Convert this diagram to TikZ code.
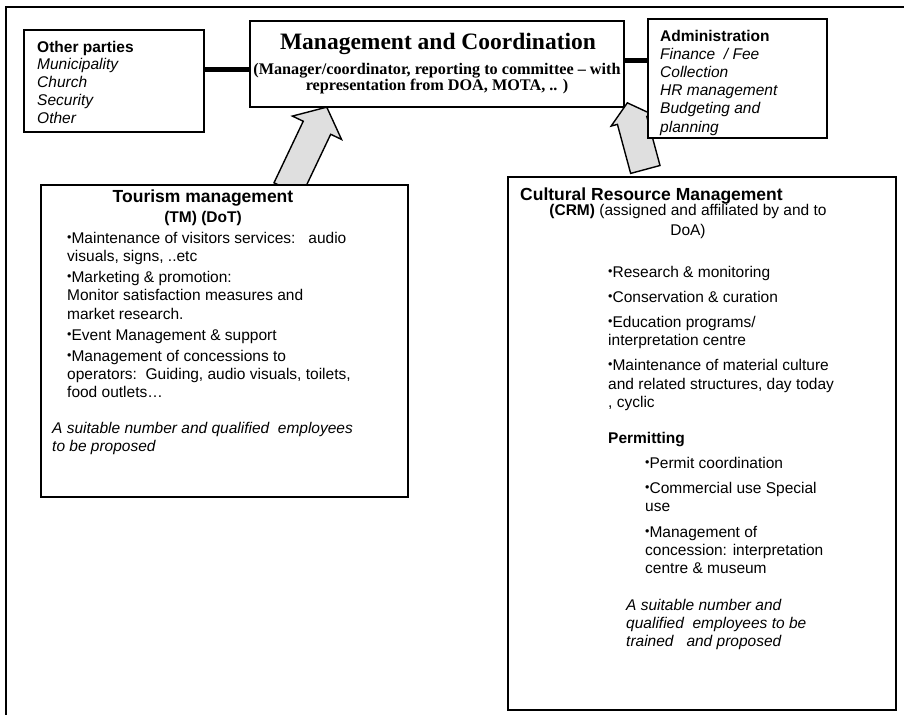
\documentclass[tikz,border=0pt]{standalone}
\usepackage{fontspec}
\setmainfont{Liberation Sans}
\newfontfamily\timesfont{Liberation Serif}
\usepackage{tikz}
\usetikzlibrary{shapes.arrows}

\newcommand{\bul}{{\fontsize{12.5}{10}\selectfont\raisebox{0.3ex}{\textbullet}}}
\newcommand{\bodyfont}[1]{\fontsize{15.5}{#1}\selectfont}

\tikzset{
  box/.style={draw, line width=1.4pt, fill=white, inner sep=0pt},
  link/.style={line width=5pt},
  txt/.style={inner sep=0pt, align=left, anchor=north west},
  bigarrow/.style={single arrow, draw, line width=1.4pt, fill=gray!25,
    inner sep=14.5pt, single arrow tip angle=100}
}

\begin{document}
\begin{tikzpicture}[x=1pt,y=-1pt]
    \useasboundingbox (0,0) rectangle (904,715);
    % frame of the page
    \draw[line width=1.5pt] (5,7) -- (904,7);
    \draw[line width=2pt] (6,7) -- (6,715);

    % block arrows up to the management box
    \node[bigarrow, minimum height=91pt, single arrow head extend=12pt, rotate=64.6] (tmarrow) at (304.5,154) {};
    \node[bigarrow, minimum height=69pt, single arrow head extend=6.5pt, rotate=105.1] (crmarrow) at (638,142.3) {};

    % boxes
    \node[box, minimum width=180pt, minimum height=102pt] (others) at (114,81) {};
    \node[box, minimum width=374pt, minimum height=86pt] (mgmt) at (437,64) {};
    \node[box, minimum width=179pt, minimum height=119pt] (admin) at (737.5,78.5) {};
    \node[box, minimum width=367pt, minimum height=312pt] (tm) at (224.5,341) {};
    \node[box, minimum width=388pt, minimum height=533pt] (crm) at (702,443.5) {};

    \draw[link] (others.east |- 0,69) -- (mgmt.west |- 0,69);
    \draw[link] (mgmt.east |- 0,60) -- (admin.west |- 0,60);

    % management and coordination
    \node[inner sep=0pt, anchor=north, font=\timesfont\bfseries\fontsize{23.5}{25}\selectfont] (mgmttitle) at (438,33) {Management and Coordination};
    \node[inner sep=0pt, anchor=north, align=center, font=\timesfont\bfseries\fontsize{16.2}{16}\selectfont] (mgmtsub) at (437,63)
      {(Manager/coordinator, reporting to committee \textendash\ with\\representation from DOA, MOTA, .. )};

    % other parties
    \node[txt, font=\bodyfont{17.8}] (otherstext) at (37,40.7)
      {\textbf{Other parties}\\\textit{Municipality}\\\textit{Church}\\\textit{Security}\\\textit{Other}};

    % administration
    \node[txt, font=\bodyfont{18.2}] (admintext) at (660,29.7)
      {\textbf{Administration}\\\textit{Finance\ \ / Fee}\\\textit{Collection}\\\textit{HR management}\\\textit{Budgeting and}\\\textit{planning}};

    % tourism management
    \node[inner sep=0pt, anchor=north, align=center, font=\bfseries\fontsize{17.5}{20}\selectfont] (tmhead) at (203,189.2)
      {Tourism management\\{\fontsize{15.5}{20}\selectfont (TM) (DoT)}};
    \node[txt, font=\bodyfont{18.3}] (tmitems) at (67,231.7)
      {\bul Maintenance of visitors services:\ \ \ audio\\visuals, signs, ..etc\\[2.7pt]
       \bul Marketing \& promotion:\\Monitor satisfaction measures and\\market research.\\[2.7pt]
       \bul Event Management \& support\\[2.7pt]
       \bul Management of concessions to\\operators:\ \ Guiding, audio visuals, toilets,\\food outlets\ldots};
    \node[txt, font=\bodyfont{18.5}\itshape] (tmnote) at (52,421.7)
      {A suitable number and qualified\ \ employees\\to be proposed};

    % cultural resource management
    \node[txt, font=\bfseries\fontsize{17.5}{20}\selectfont] (crmhead) at (520,187.2) {Cultural Resource Management};
    \node[inner sep=0pt, anchor=north, align=center, font=\bodyfont{20}] (crmsub) at (688,203.7)
      {\textbf{(CRM)} (assigned and affiliated by and to\\DoA)};
    \node[txt, font=\bodyfont{18.5}] (crmitems) at (608,265.7)
      {\bul Research \& monitoring\\[6.5pt]
       \bul Conservation \& curation\\[6.5pt]
       \bul Education programs/\\interpretation centre\\[6.5pt]
       \bul Maintenance of material culture\\and related structures, day today\\, cyclic};
    \node[txt, font=\bodyfont{18}\bfseries] (permit) at (608,431.7) {Permitting};
    \node[txt, font=\bodyfont{18}] (permititems) at (645,456.7)
      {\bul Permit coordination\\[7.5pt]
       \bul Commercial use Special\\use\\[7.5pt]
       \bul Management of\\concession: interpretation\\centre \& museum};
    \node[txt, font=\bodyfont{18}\itshape] (crmnote) at (626,598.7)
      {A suitable number and\\qualified\ \ employees to be\\trained\ \ \ and proposed};
\end{tikzpicture}
\end{document}
